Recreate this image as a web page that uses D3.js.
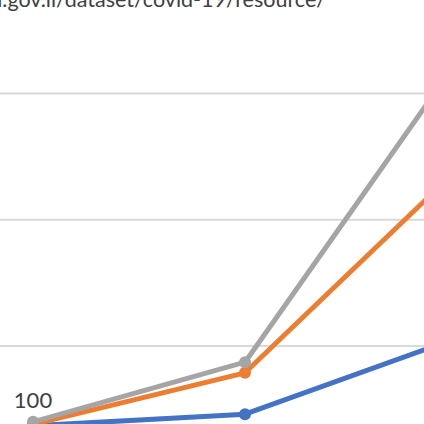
<!DOCTYPE html>
<html>
<head>
<meta charset="utf-8">
<script src="https://cdn.jsdelivr.net/npm/d3@7"></script>
<style>
  html, body { margin: 0; padding: 0; background: #fff; }
  svg { display: block; }
</style>
</head>
<body>
<div id="chart"></div>
<script>
// values (only the first three points are in view)
const categories = ['1', '2', '3'];
const blueValues = [92, 115, 266];
const orangeValues = [95, 197, 599];
const grayValues = [100, 218, 814];
const gridTicks = [0, 250, 500, 750, 1000];
const sourceText = 'https://data.gov.il/dataset/covid-19/resource/';
const visiblePart = '.gov.il/dataset/covid-19/resource/';
const firstLabel = '100';

const width = 424, height = 424;

const svg = d3.select('#chart')
  .append('svg')
  .attr('width', width)
  .attr('height', height);

const x = d3.scalePoint()
  .domain(categories)
  .range([33, 457]);

const y = d3.scaleLinear()
  .domain([0, 1000])
  .range([472.3, -32.7]);

// gridlines
svg.selectAll('line.grid')
  .data(gridTicks)
  .enter()
  .append('line')
  .attr('class', 'grid')
  .attr('x1', 0)
  .attr('x2', width)
  .attr('y1', d => y(d))
  .attr('y2', d => y(d))
  .attr('stroke', '#d9d9d9')
  .attr('stroke-width', 2);

// source line at the top (the frame cuts it off like in the original)
const font = 'Lato, "Open Sans", sans-serif';
const probe = svg.append('text')
  .attr('font-family', font)
  .attr('font-size', 20)
  .text(visiblePart);
const probeW = probe.node().getComputedTextLength();
probe.remove();
const srcSize = 20 * 324 / probeW;

svg.append('text')
  .attr('x', 326)
  .attr('y', 7)
  .attr('text-anchor', 'end')
  .attr('font-family', font)
  .attr('font-size', srcSize)
  .attr('fill', '#404040')
  .text(sourceText);

const series = [
  { name: 'blue', values: blueValues, color: '#4472c4' },
  { name: 'orange', values: orangeValues, color: '#ed7d31' },
  { name: 'gray', values: grayValues, color: '#a5a5a5' }
];

const line = d3.line()
  .x((d, i) => x(categories[i]))
  .y(d => y(d));

series.forEach(s => {
  svg.append('path')
    .datum(s.values)
    .attr('d', line)
    .attr('fill', 'none')
    .attr('stroke', s.color)
    .attr('stroke-width', 5)
    .attr('stroke-linejoin', 'round');

  svg.selectAll('circle.' + s.name)
    .data(s.values)
    .enter()
    .append('circle')
    .attr('class', s.name)
    .attr('cx', (d, i) => x(categories[i]))
    .attr('cy', d => y(d))
    .attr('r', 6)
    .attr('fill', s.color);
});

// data label on the first gray point
svg.append('text')
  .attr('x', x(categories[0]))
  .attr('y', 408)
  .attr('text-anchor', 'middle')
  .attr('font-family', font)
  .attr('font-size', 22)
  .attr('fill', '#404040')
  .text(firstLabel);
</script>
</body>
</html>
